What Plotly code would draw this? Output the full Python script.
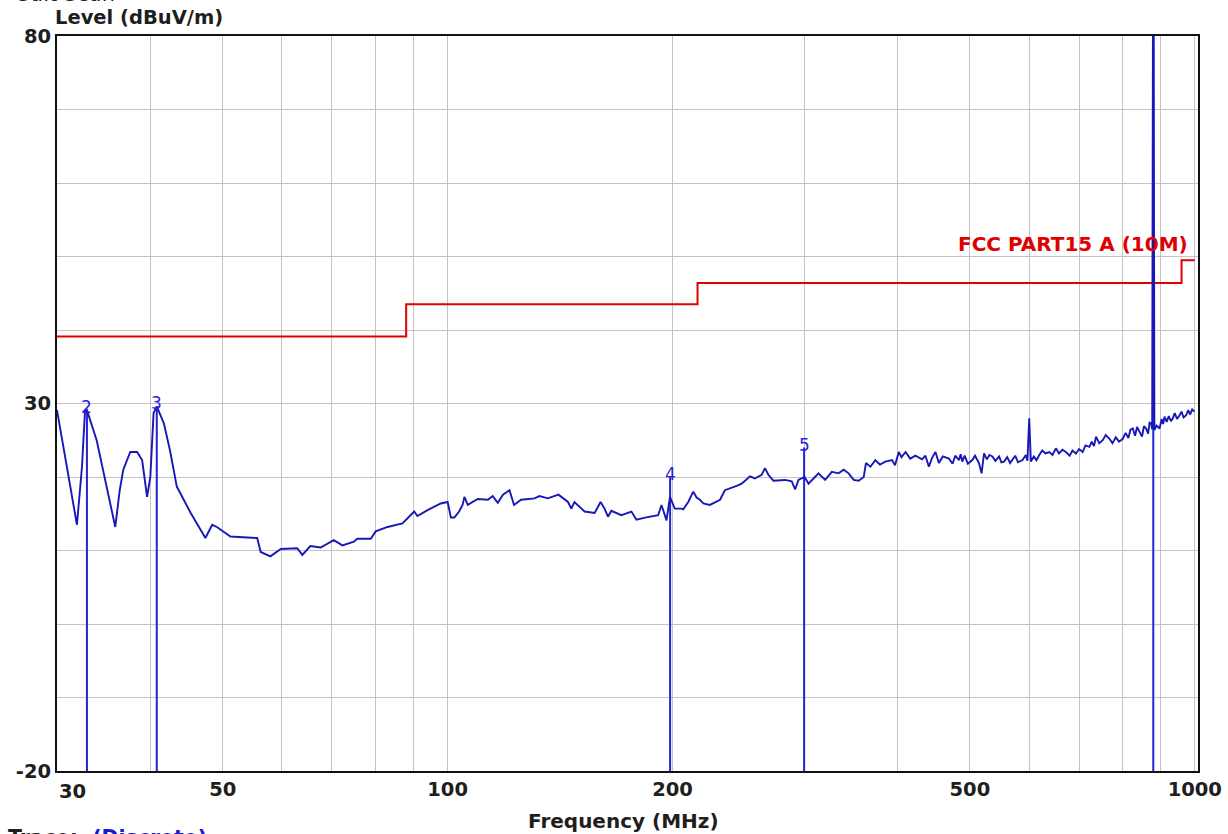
import math
import plotly.graph_objects as go

# ---- data ----
freq_mhz = [
    30.0, 30.6, 31.5, 31.9, 32.2, 32.4, 32.7, 32.9, 33.9, 35.0, 35.9, 36.4, 36.8, 37.6, 38.4,
    39.0, 39.6, 40.0, 40.4, 40.8, 41.7, 42.5, 43.4, 45.3, 47.4, 48.4, 49.1, 51.2, 55.6, 56.2,
    57.9, 59.8, 62.9, 63.9, 65.5, 67.6, 69.7, 70.4, 72.3, 74.9, 75.7, 78.9, 80.1, 83.1, 87.0,
    90.2, 91.1, 94.0, 97.9, 100.0, 101.0, 102.1, 103.6, 104.7, 105.3, 106.4, 109.7, 113.2, 114.9,
    116.7, 118.6, 121.0, 122.7, 125.4, 130.7, 132.7, 136.2, 140.7, 144.9, 146.4, 147.8, 152.5,
    157.3, 160.2, 162.2, 163.9, 165.6, 170.8, 176.2, 178.9, 184.5, 191.3, 193.3, 196.3, 198.4,
    201.4, 205.6, 206.7, 209.9, 213.2, 215.4, 217.6, 219.9, 224.4, 231.5, 235.0, 243.7, 247.5,
    253.9, 257.8, 263.2, 265.9, 268.7, 272.9, 282.9, 288.8, 291.8, 294.8, 300.4, 304.1, 308.8,
    313.6, 320.1, 326.8, 333.6, 338.9, 344.1, 349.5, 354.9, 360.5, 363.0, 368.0, 373.6, 379.0,
    385.3, 393.4, 397.0, 401.6, 405.0, 410.1, 416.0, 422.7, 431.6, 436.0, 440.7, 445.0, 449.7,
    454.5, 460.0, 468.8, 474.0, 478.0, 483.5, 486.0, 488.4, 492.0, 497.0, 503.7, 508.0, 514.2,
    518.4, 522.3, 527.0, 531.0, 535.9, 541.0, 547.1, 551.0, 555.6, 561.0, 566.0, 570.0, 575.0,
    580.0, 588.1, 594.1, 597.0, 600.4, 603.4, 609.0, 614.0, 619.2, 625.0, 631.0, 638.6, 645.0,
    651.8, 658.0, 665.0, 672.2, 680.0, 686.0, 693.4, 700.0, 707.9, 714.0, 722.7, 728.0, 733.0,
    737.6, 745.0, 753.0, 760.0, 768.8, 776.0, 784.0, 792.0, 801.0, 808.0, 815.0, 820.0, 826.1,
    832.0, 837.0, 843.4, 850.0, 855.0, 860.8, 866.0, 870.0, 874.2, 877.0, 879.0, 881.0, 883.0,
    889.0, 897.2, 903.0, 907.0, 911.1, 917.0, 923.0, 929.0, 934.7, 940.0, 947.0, 954.2, 960.0,
    966.0, 973.9, 980.0, 986.0, 992.0, 999.0,
]
level_dbuv = [
    29.1, 24.1, 16.9, 13.5, 18.2, 21.4, 28.9, 29.1, 25.0, 18.2, 13.2, 18.2, 21.0, 23.4, 23.4,
    22.3, 17.3, 20.0, 28.7, 29.6, 27.3, 23.6, 18.7, 15.1, 11.7, 13.5, 13.2, 11.9, 11.7, 9.8,
    9.2, 10.2, 10.3, 9.4, 10.6, 10.4, 11.1, 11.4, 10.7, 11.2, 11.6, 11.6, 12.6, 13.2, 13.7,
    15.3, 14.7, 15.5, 16.4, 16.6, 14.5, 14.5, 15.3, 16.2, 17.3, 16.2, 17.0, 16.9, 17.4,
    16.5, 17.6, 18.2, 16.2, 16.9, 17.1, 17.4, 17.1, 17.6, 16.6, 15.7, 16.6, 15.3,
    15.1, 16.6, 15.7, 14.6, 15.4, 14.8, 15.3, 14.2, 14.5, 14.8, 16.2, 14.1, 17.3,
    15.7, 15.7, 15.6, 16.6, 18.0, 17.2, 16.9, 16.4, 16.2, 16.9, 18.2, 18.8, 19.1,
    20.1, 19.8, 20.3, 21.2, 20.3, 19.5, 19.6, 19.4, 18.3, 19.6, 20.0, 19.1, 19.8,
    20.5, 19.6, 20.7, 20.5, 21.0, 20.5, 19.6, 19.5, 20.0, 21.9, 21.4, 22.3, 21.7,
    22.1, 22.3, 21.6, 23.4, 22.7, 23.4, 22.5, 22.9, 22.4, 22.9, 21.4, 22.6, 23.4,
    21.9, 22.8, 22.5, 21.8, 22.9, 22.3, 23.1, 22.1, 22.9, 21.8, 22.3, 22.9, 21.9,
    20.5, 23.2, 22.4, 23.0, 22.8, 22.2, 22.8, 22.0, 22.1, 22.7, 21.9, 22.3, 22.9,
    22.0, 22.3, 23.0, 22.2, 28.0, 22.1, 22.8, 22.3, 23.0, 23.6, 23.2, 23.4, 23.0,
    23.9, 23.2, 23.7, 23.4, 22.9, 23.6, 23.2, 23.8, 23.4, 24.3, 24.1, 24.8, 24.2,
    25.5, 24.6, 25.0, 25.7, 25.2, 24.6, 25.4, 24.8, 25.2, 26.0, 25.3, 26.4, 26.6,
    25.6, 26.8, 26.2, 25.5, 26.9, 26.6, 25.9, 27.4, 27.3, 26.5, 80.0, 80.0, 26.4,
    27.0, 26.6, 27.9, 27.2, 28.2, 27.5, 28.3, 27.6, 28.0, 28.7, 27.9, 28.4, 28.9,
    28.1, 28.4, 29.1, 28.5, 29.2, 28.9,
]

limit_freq = [30, 88, 216, 960, 1000]
limit_level = [39.1, 43.5, 46.4, 49.5, 49.5]
limit_name = "FCC PART15 A (10M)"

marker_id = ["2", "3", "4", "5", "6"]
marker_freq = [32.9, 40.8, 198.5, 300.0, 880.0]
marker_level = [29.1, 29.6, 20.0, 24.0, 80.0]

x_tick_vals = [30, 40, 50, 60, 70, 80, 90, 100, 200, 300, 400, 500, 600, 700, 800, 900, 1000]
x_tick_text = ["", "", "50", "", "", "", "", "100", "200", "", "", "500", "", "", "", "", "1000"]
y_tick_vals = [-20, -10, 0, 10, 20, 30, 40, 50, 60, 70, 80]
y_tick_text = ["-20", "", "", "", "", "30", "", "", "", "", "80"]

FONT = "DejaVu Sans"
TRACE_BLUE = "#1818b8"
MARK_BLUE = "#2424d4"
LIMIT_RED = "#e00000"
INK = "#1e1e1e"

fig = go.Figure()

fig.add_trace(go.Scatter(
    x=limit_freq, y=limit_level, mode="lines", line=dict(color=LIMIT_RED, width=2, shape="hv"),
    name=limit_name, hoverinfo="skip",
))

mx, my = [], []
for f, lv in zip(marker_freq, marker_level):
    mx += [f, f, None]
    my += [-20, lv, None]
fig.add_trace(go.Scatter(x=mx, y=my, mode="lines", line=dict(color=MARK_BLUE, width=2),
                         name="markers", hoverinfo="skip"))

fig.add_trace(go.Scatter(
    x=freq_mhz, y=level_dbuv, mode="lines", line=dict(color=TRACE_BLUE, width=1.9),
    name="Discrete",
))

annotations = []
for mid, f, lv in zip(marker_id, marker_freq, marker_level):
    if lv >= 80:
        continue
    annotations.append(dict(
        x=math.log10(f), y=lv, xref="x", yref="y", text=mid, showarrow=False,
        yanchor="middle", xanchor="center", yshift=3,
        font=dict(family=FONT, size=17, color=MARK_BLUE),
    ))

annotations.append(dict(
    x=math.log10(limit_freq[-1]), y=limit_level[-1], xref="x", yref="y", text=limit_name,
    showarrow=False, xanchor="right", yanchor="bottom", xshift=-5, yshift=2,
    font=dict(family=FONT, size=20, color=LIMIT_RED, weight="bold"),
))
annotations.append(dict(
    x=math.log10(30), y=0, xref="x", yref="paper", text="30", showarrow=False,
    xanchor="left", yanchor="top", yshift=-7,
    font=dict(family=FONT, size=19.5, color=INK, weight="bold"),
))
annotations.append(dict(
    x=0, y=1, xref="paper", yref="paper", text="Level (dBuV/m)", showarrow=False,
    xanchor="left", yanchor="middle", xshift=-4, yshift=19,
    font=dict(family=FONT, size=19.5, color=INK, weight="bold"),
))
annotations.append(dict(
    x=0, y=1, xref="paper", yref="paper", text="Salt Scan", showarrow=False,
    xanchor="left", yanchor="middle", xshift=-42, yshift=42,
    font=dict(family=FONT, size=21, color=INK),
))
annotations.append(dict(
    x=0.5, y=0, xref="paper", yref="paper", text="Frequency (MHz)", showarrow=False,
    xanchor="center", yanchor="middle", yshift=-50, xshift=-4,
    font=dict(family=FONT, size=20, color=INK, weight="bold"),
))
annotations.append(dict(
    x=0, y=0, xref="paper", yref="paper",
    text="Trace:  <span style='color:#1a1ad0'>(Discrete)</span>", showarrow=False,
    xanchor="left", yanchor="top", xshift=-51, yshift=-53,
    font=dict(family=FONT, size=20.5, color=INK, weight="bold"),
))

fig.update_layout(
    template="none",
    width=1228, height=834,
    margin=dict(l=57, r=30, t=36, b=63, pad=0, autoexpand=False),
    paper_bgcolor="white", plot_bgcolor="white",
    showlegend=False,
    annotations=annotations,
    font=dict(family=FONT),
)
fig.update_xaxes(
    type="log", range=[math.log10(30), math.log10(1010)], automargin=False,
    tickmode="array", tickvals=x_tick_vals, ticktext=x_tick_text,
    showgrid=True, gridcolor="#c4c4c4", gridwidth=1,
    showline=True, linecolor="#111111", linewidth=2, mirror=True,
    ticks="", zeroline=False,
    tickfont=dict(family=FONT, size=19.5, color=INK, weight="bold"),
)
fig.update_yaxes(
    range=[-20, 80], automargin=False,
    tickmode="array", tickvals=y_tick_vals, ticktext=y_tick_text,
    showgrid=True, gridcolor="#c4c4c4", gridwidth=1,
    showline=True, linecolor="#111111", linewidth=2, mirror=True,
    ticks="", zeroline=False,
    tickfont=dict(family=FONT, size=19.5, color=INK, weight="bold"),
)

fig.write_html(
    "out.html",
    config={"displayModeBar": False},
    post_script="document.body.style.margin='0px';document.body.style.overflow='hidden';",
)
